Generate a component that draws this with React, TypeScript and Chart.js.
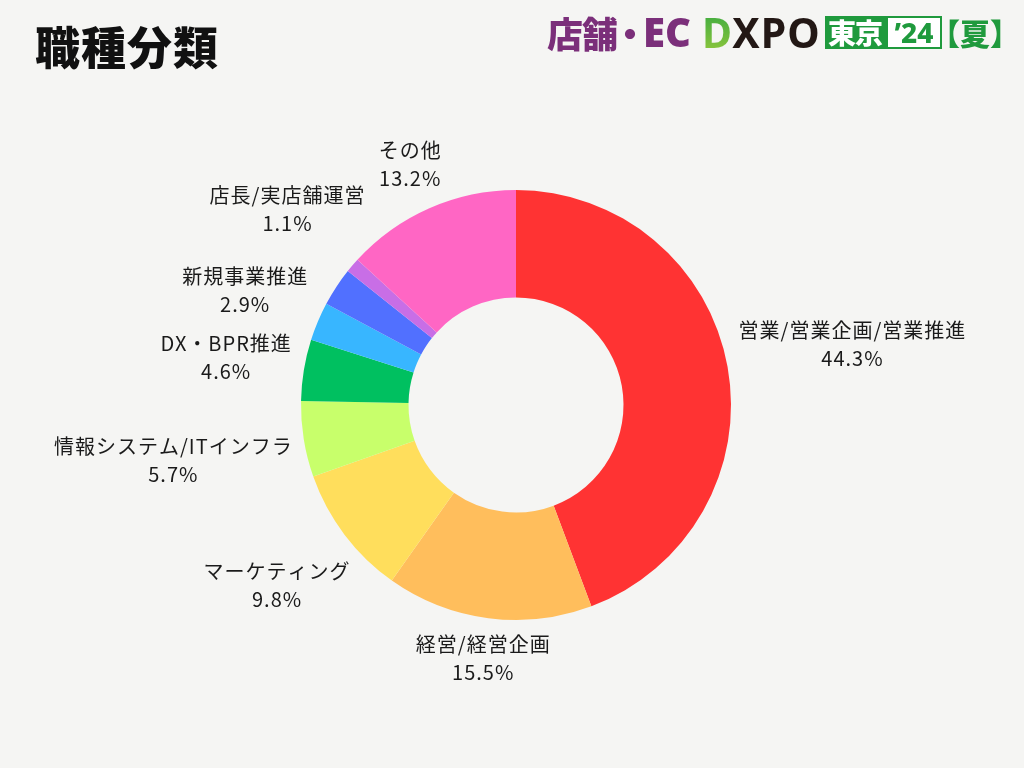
import React, { useEffect, useRef } from "react";
import { Chart, registerables } from "chart.js";

Chart.register(...registerables);

const categories = [
  "営業/営業企画/営業推進",
  "経営/経営企画",
  "マーケティング",
  "情報システム/ITインフラ",
  "DX・BPR推進",
  "新規事業推進",
  "",
  "店長/実店舗運営",
  "その他",
];
const values = [44.3, 15.5, 9.8, 5.7, 4.6, 2.9, 2.9, 1.1, 13.2];
const colors = [
  "#FF3333",
  "#FFBE5C",
  "#FFDE5C",
  "#C8FF6B",
  "#00C060",
  "#38B6FF",
  "#5170FF",
  "#C86EE6",
  "#FF66C4",
];

const LABEL_FONT = '20px "Noto Sans CJK JP", "Noto Sans", sans-serif';

const outLabels = {
  id: "outLabels",
  afterDatasetsDraw(chart: any) {
    const ctx = chart.ctx as CanvasRenderingContext2D;
    const meta = chart.getDatasetMeta(0);
    ctx.save();
    ctx.font = LABEL_FONT;
    (ctx as any).letterSpacing = "1px";
    ctx.fillStyle = "#1a1a1a";
    ctx.textAlign = "center";
    ctx.textBaseline = "middle";
    const lineGap = 28;
    meta.data.forEach((arc: any, i: number) => {
      const name = categories[i];
      if (!name) return;
      const pct = values[i].toFixed(1) + "%";
      const p = arc.getProps(["x", "y", "startAngle", "endAngle", "outerRadius"], true);
      const mid = (p.startAngle + p.endAngle) / 2;
      const vx = Math.cos(mid);
      const vy = Math.sin(mid);
      const w = Math.max(ctx.measureText(name).width, ctx.measureText(pct).width);
      const hw = w / 2;
      const hh = lineGap;
      const clear = p.outerRadius + 10;
      let lo = 0;
      let hi = 1200;
      for (let k = 0; k < 60; k++) {
        const D = (lo + hi) / 2;
        const cx = vx * D;
        const cy = vy * D;
        const nx = Math.max(0, Math.abs(cx) - hw);
        const ny = Math.max(0, Math.abs(cy) - hh);
        if (Math.hypot(nx, ny) < clear) lo = D;
        else hi = D;
      }
      const cx = p.x + vx * hi;
      const cy = p.y + vy * hi;
      ctx.fillText(name, cx, cy - lineGap / 2);
      ctx.fillText(pct, cx, cy + lineGap / 2);
    });
    ctx.restore();
  },
};

export default function App() {
  const ref = useRef<HTMLCanvasElement | null>(null);

  useEffect(() => {
    if (!ref.current) return;
    const chart = new Chart(ref.current, {
      type: "doughnut",
      data: {
        labels: categories,
        datasets: [
          {
            data: values,
            backgroundColor: colors,
            borderWidth: 0,
          },
        ],
      },
      options: {
        animation: false,
        responsive: false,
        cutout: "50%",
        layout: { padding: { left: 301, right: 293, top: 190, bottom: 148 } },
        plugins: {
          legend: { display: false },
          tooltip: { enabled: false },
          title: { display: false },
        },
      },
      plugins: [outLabels],
    });
    return () => chart.destroy();
  }, []);

  const cjk = '"Noto Sans CJK JP", "Noto Sans", sans-serif';
  const purple = "#7B2F7A";
  const green = "#1F9A3D";

  return (
    <div
      style={{
        position: "fixed",
        left: 0,
        top: 0,
        width: 1024,
        height: 768,
        background: "#F5F5F3",
        overflow: "hidden",
      }}
    >
      <canvas ref={ref} width={1024} height={768} style={{ position: "absolute", left: 0, top: 0 }} />
      <div
        style={{
          position: "absolute",
          left: 35,
          top: 18,
          fontFamily: cjk,
          fontWeight: 900,
          fontSize: 45,
          lineHeight: "56px",
          color: "#111",
          letterSpacing: 1,
        }}
      >
        職種分類
      </div>
      <div
        style={{
          position: "absolute",
          left: 547,
          top: 12,
          height: 40,
          display: "flex",
          alignItems: "center",
          fontFamily: cjk,
          fontWeight: 900,
          whiteSpace: "nowrap",
          color: purple,
        }}
      >
        <span style={{ fontSize: 36, letterSpacing: -1, lineHeight: "40px" }}>店舗</span>
        <span style={{ fontSize: 36, lineHeight: "40px", margin: "0 -5px" }}>・</span>
        <span style={{ fontSize: 40, lineHeight: "40px", fontFamily: '"Noto Sans", sans-serif', letterSpacing: 0 }}>EC</span>
      </div>
      <div
        style={{
          position: "absolute",
          left: 702,
          top: 10,
          height: 44,
          fontSize: 41,
          lineHeight: "44px",
          fontFamily: '"Noto Sans", sans-serif',
          fontWeight: 700,
          letterSpacing: 1,
          whiteSpace: "nowrap",
        }}
      >
        <span
          style={{
            background: "linear-gradient(180deg, #2DA640 0%, #9DCB3C 100%)",
            WebkitBackgroundClip: "text",
            color: "transparent",
          }}
        >
          D
        </span>
        <span style={{ color: "#231815" }}>XPO</span>
      </div>
      <div
        style={{
          position: "absolute",
          left: 825,
          top: 16,
          width: 117,
          height: 33,
          background: green,
          boxSizing: "border-box",
        }}
      >
        <span
          style={{
            position: "absolute",
            left: 3,
            top: 0,
            color: "#fff",
            fontFamily: cjk,
            fontWeight: 900,
            fontSize: 28,
            lineHeight: "33px",
            letterSpacing: -1,
            whiteSpace: "nowrap",
          }}
        >
          東京
        </span>
        <span
          style={{
            position: "absolute",
            left: 63,
            top: 2,
            width: 52,
            height: 29,
            background: "#fff",
            color: green,
            fontSize: 28,
            lineHeight: "29px",
            textAlign: "center",
            fontFamily: '"Noto Sans", sans-serif',
            fontWeight: 800,
            whiteSpace: "nowrap",
          }}
        >
          ’24
        </span>
      </div>
      <div
        style={{
          position: "absolute",
          left: 930,
          top: 12,
          height: 40,
          color: green,
          fontFamily: cjk,
          fontWeight: 900,
          fontSize: 30,
          lineHeight: "40px",
          whiteSpace: "nowrap",
        }}
      >
        【夏】
      </div>
    </div>
  );
}
